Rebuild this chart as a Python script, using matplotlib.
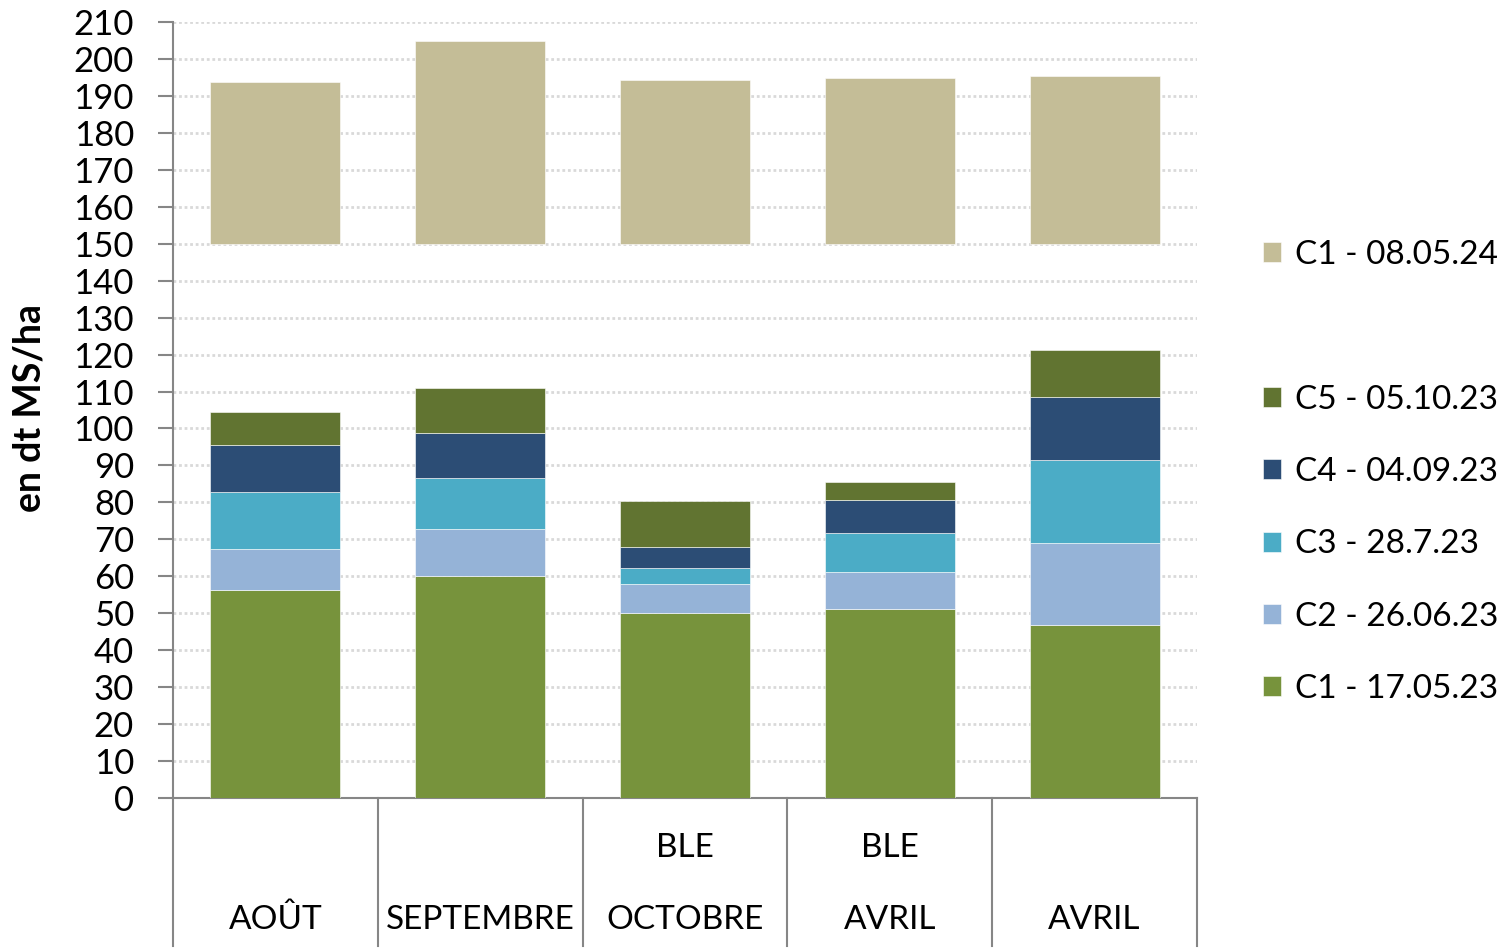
import matplotlib
matplotlib.use("Agg")
import matplotlib.pyplot as plt
from matplotlib.patches import Patch
from matplotlib.lines import Line2D
import numpy as np

plt.rcParams['font.family'] = ['Lato', 'DejaVu Sans']

categories = ["AOÛT", "SEPTEMBRE", "OCTOBRE", "AVRIL", "AVRIL"]
group_labels = ["", "", "BLE", "BLE", ""]

c1_23 = [56.2, 60.1, 50.1, 51.2, 46.8]
c2_23 = [11.1, 12.6, 7.7, 10.0, 22.1]
c3_23 = [15.4, 13.9, 4.4, 10.5, 22.7]
c4_23 = [12.7, 12.2, 5.6, 8.9, 17.0]
c5_23 = [9.0, 12.1, 12.7, 4.9, 12.7]
c1_24_base = [150, 150, 150, 150, 150]
c1_24_top = [193.8, 204.9, 194.3, 194.9, 195.4]

series = [
    ("C1 - 17.05.23", c1_23, "#77933C"),
    ("C2 - 26.06.23", c2_23, "#95B3D7"),
    ("C3 - 28.7.23", c3_23, "#4BACC6"),
    ("C4 - 04.09.23", c4_23, "#2C4D75"),
    ("C5 - 05.10.23", c5_23, "#617431"),
]
c24_color = "#C4BD97"

fig = plt.figure(figsize=(15.09, 9.51), dpi=100)
ax = fig.add_axes([173/1509, 1-798/951, (1197-173)/1509, (798-22)/951])

x = np.arange(len(categories))
width = 0.635
bottom = np.zeros(len(categories))
handles = {}
for name, vals, col in series:
    b = ax.bar(x, vals, width, bottom=bottom, color=col, edgecolor="white", linewidth=0.4, zorder=3)
    handles[name] = b
    bottom += np.array(vals)

h24 = np.array(c1_24_top) - np.array(c1_24_base)
b24 = ax.bar(x, h24, width, bottom=c1_24_base, color=c24_color, edgecolor="white", linewidth=0.4, zorder=3)

ax.set_xlim(-0.5, len(categories) - 0.5)
ax.set_ylim(0, 210)
ax.set_yticks(np.arange(0, 211, 10))
ax.tick_params(axis='y', labelsize=25, length=11, color="#868686", width=1.5, pad=17, direction='out')
ax.tick_params(axis='x', length=0, labelbottom=False)
ax.yaxis.grid(True, color="#d9d9d9", linestyle=(0, (1, 1)), linewidth=2.0, zorder=0)
ax.set_axisbelow(True)
for s in ["top", "right"]:
    ax.spines[s].set_visible(False)
for s in ["left", "bottom"]:
    ax.spines[s].set_color("#868686")
    ax.spines[s].set_linewidth(1.5)

ax.set_ylabel("en dt MS/ha", fontsize=27, fontweight="bold")
ax.yaxis.set_label_coords((47 - 173) / 1024, (798 - 408) / 776)

# multi-level category axis
trans = ax.get_xaxis_transform()
ax_h_px = 798 - 22
def ybelow(px):
    return -px / ax_h_px
for i in range(len(categories) + 1):
    xb = i - 0.5
    ax.add_line(Line2D([xb, xb], [0, ybelow(951 - 798 - 5)], transform=trans,
                       color="#868686", linewidth=1.5, clip_on=False))
for i, (cat, grp) in enumerate(zip(categories, group_labels)):
    if grp:
        ax.text(i, ybelow(848 - 798), grp, transform=trans, ha="center", va="center", fontsize=24)
    ax.text(i, ybelow(920 - 798), cat, transform=trans, ha="center", va="center", fontsize=24)

# legend
blank = Patch(facecolor="none", edgecolor="none")
leg_handles = [b24, blank, handles["C5 - 05.10.23"], handles["C4 - 04.09.23"],
               handles["C3 - 28.7.23"], handles["C2 - 26.06.23"], handles["C1 - 17.05.23"]]
leg_labels = ["C1 - 08.05.24", "", "C5 - 05.10.23", "C4 - 04.09.23",
              "C3 - 28.7.23", "C2 - 26.06.23", "C1 - 17.05.23"]
fig.legend(leg_handles, leg_labels, loc="upper left", bbox_to_anchor=(1263/1509, 1-240/951),
           frameon=False, fontsize=24, handlelength=0.55, handleheight=0.55,
           handletextpad=0.4, labelspacing=1.27, borderpad=0, borderaxespad=0)

fig.savefig("out.png", dpi=100)
